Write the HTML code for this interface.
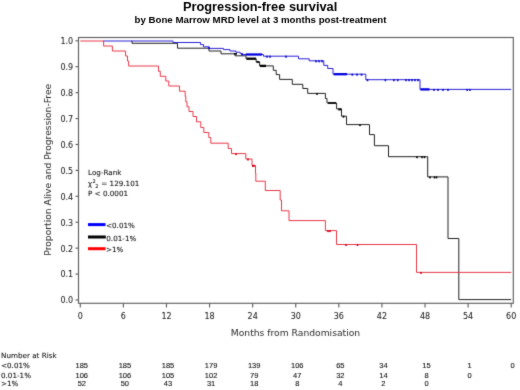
<!DOCTYPE html>
<html lang="en">
<head>
<meta charset="utf-8">
<title>Progression-free survival</title>
<style>
html,body{margin:0;padding:0;background:#fff;}
body{width:520px;height:390px;overflow:hidden;}
svg{display:block;}
text{font-family:"DejaVu Sans","Liberation Sans",sans-serif;fill:#111;}
.title{font-family:"Liberation Sans",sans-serif;font-weight:bold;font-size:12.8px;fill:#000;}
.sub{font-family:"Liberation Sans",sans-serif;font-weight:bold;font-size:9.7px;fill:#000;}
.tk{font-size:8px;fill:#1a1a1a;stroke:#1a1a1a;stroke-width:0.06px;}
.ax{font-size:9.2px;fill:#2a2a2a;}
.sm{font-size:7.2px;fill:#0a0a0a;stroke:#0a0a0a;stroke-width:0.07px;}
.sup{font-size:5px;}
.num{font-family:"Liberation Sans",sans-serif;font-size:7.5px;fill:#0a0a0a;stroke:#0a0a0a;stroke-width:0.08px;}
</style>
</head>
<body>
<svg width="520" height="390" viewBox="0 0 520 390">
<defs>
<filter id="softL" x="0" y="0" width="520" height="390" filterUnits="userSpaceOnUse" color-interpolation-filters="sRGB"><feConvolveMatrix order="3" kernelMatrix="0.0225 0.1500 0.0225 0.1500 1.0000 0.1500 0.0225 0.1500 0.0225" edgeMode="none" preserveAlpha="false"/></filter>
<filter id="softT" x="0" y="0" width="520" height="390" filterUnits="userSpaceOnUse" color-interpolation-filters="sRGB"><feConvolveMatrix order="3" kernelMatrix="0.0225 0.1500 0.0225 0.1500 1.0000 0.1500 0.0225 0.1500 0.0225" edgeMode="none" preserveAlpha="false"/></filter>
<filter id="softH" x="0" y="0" width="520" height="390" filterUnits="userSpaceOnUse" color-interpolation-filters="sRGB"><feConvolveMatrix order="3" kernelMatrix="0.0100 0.1000 0.0100 0.1000 1.0000 0.1000 0.0100 0.1000 0.0100" edgeMode="none" preserveAlpha="false"/></filter>
</defs>
<rect x="0" y="0" width="520" height="390" fill="#fff"/>
<g filter="url(#softH)">
<text x="260.1" y="10.8" text-anchor="middle" class="title">Progression-free survival</text>
<text x="260.5" y="22.9" text-anchor="middle" class="sub">by Bone Marrow MRD level at 3 months post-treatment</text>
</g>
<g filter="url(#softL)">
<g fill="none" stroke="#606060" stroke-width="1.15">
<rect x="78.5" y="37.5" width="434.8" height="265.8"/>
<line x1="80.30" y1="303.3" x2="80.30" y2="307.5"/><line x1="123.39" y1="303.3" x2="123.39" y2="307.5"/><line x1="166.48" y1="303.3" x2="166.48" y2="307.5"/><line x1="209.57" y1="303.3" x2="209.57" y2="307.5"/><line x1="252.66" y1="303.3" x2="252.66" y2="307.5"/><line x1="295.75" y1="303.3" x2="295.75" y2="307.5"/><line x1="338.84" y1="303.3" x2="338.84" y2="307.5"/><line x1="381.93" y1="303.3" x2="381.93" y2="307.5"/><line x1="425.02" y1="303.3" x2="425.02" y2="307.5"/><line x1="468.11" y1="303.3" x2="468.11" y2="307.5"/><line x1="511.20" y1="303.3" x2="511.20" y2="307.5"/><line x1="75.5" y1="300.00" x2="78.5" y2="300.00"/><line x1="75.5" y1="274.08" x2="78.5" y2="274.08"/><line x1="75.5" y1="248.16" x2="78.5" y2="248.16"/><line x1="75.5" y1="222.24" x2="78.5" y2="222.24"/><line x1="75.5" y1="196.32" x2="78.5" y2="196.32"/><line x1="75.5" y1="170.40" x2="78.5" y2="170.40"/><line x1="75.5" y1="144.48" x2="78.5" y2="144.48"/><line x1="75.5" y1="118.56" x2="78.5" y2="118.56"/><line x1="75.5" y1="92.64" x2="78.5" y2="92.64"/><line x1="75.5" y1="66.72" x2="78.5" y2="66.72"/><line x1="75.5" y1="40.80" x2="78.5" y2="40.80"/>
</g>
<g fill="none" stroke-width="1" stroke-linejoin="miter">
<path d="M131.5,41H132V43.3H177.5V48.2H209V51H221V53.8H235V55.8H246V58.7H256.2V62H259.6V65.9H273.3V70.3H276.2V74.6H279.6V79.4H292.3V84.3H302.8V88.5H307.7V93.4H325.4V98.5H327V103H336.6V108.9H341.5V116.2H346.5V124.6H369.5V134.6H374.4V145.7H388.5V156.7H427.7V176.9H448V238.5H458.8V299.6H511.2" stroke="#222222"/>
<path d="M103.1,41H173V42.5H200.5V44.6H203.5V46.8H209V48.4H223.5V49.6H230V51H236V52.2H240V53.4H242.5V54.5H263.5V56.2H298.5V58.8H309.2V60.8H323.8V65.4H327.7V68.5H333V74.2H365.8V79.7H420V89.4H511.2" stroke="#2a22d4"/>
<path d="M80.3,41H103.6V46H112.4V51H125.6V56H127.5V61H128.6V66H158.5V71.3H160.3V76.3H165.8V81H168.8V86H179.5V91.2H185.2V96.5H185.8V101.8H187V106.8H189V111.5H193V116.5H196.5V121.8H200.8V127.5H203.8V132.5H208.8V137.5H210.8V143.2H228.2V148.5H231.5V153.6H245.8V159H252V165.4H255.5V173H255.8V181.2H265.3V190.5H280.2V200H281.5V210.8H289V220.6H325.4V230.6H336.5V244.5H416.5V272.4H511.2" stroke="#e63848"/>
</g>
<line x1="246.5" y1="58.7" x2="256" y2="58.7" stroke="#000" stroke-width="2.3"/><line x1="260" y1="65.9" x2="266" y2="65.9" stroke="#000" stroke-width="2.3"/><line x1="328" y1="103" x2="336" y2="103" stroke="#000" stroke-width="1.7"/><line x1="234" y1="53.8" x2="237" y2="53.8" stroke="#000" stroke-width="1.7"/><line x1="256.5" y1="62" x2="259.5" y2="62" stroke="#000" stroke-width="1.7"/><rect x="316.2" y="92.9" width="1.6" height="2" fill="#000"/><rect x="338.2" y="108.4" width="1.6" height="2" fill="#000"/><rect x="339.7" y="108.4" width="1.6" height="2" fill="#000"/><rect x="342.7" y="115.7" width="1.6" height="2" fill="#000"/><rect x="359.2" y="124.1" width="1.6" height="2" fill="#000"/><rect x="416.2" y="156.2" width="1.6" height="2" fill="#000"/><rect x="421.2" y="156.2" width="1.6" height="2" fill="#000"/><rect x="423.7" y="156.2" width="1.6" height="2" fill="#000"/><rect x="429.2" y="176.4" width="1.6" height="2" fill="#000"/><rect x="433.7" y="176.4" width="1.6" height="2" fill="#000"/><rect x="435.7" y="176.4" width="1.6" height="2" fill="#000"/>
<line x1="245.8" y1="54.5" x2="262" y2="54.5" stroke="#0000e0" stroke-width="2.3"/><line x1="333.8" y1="74.2" x2="347" y2="74.2" stroke="#0000e0" stroke-width="2.3"/><line x1="420.5" y1="89.4" x2="429.5" y2="89.4" stroke="#0000e0" stroke-width="2.3"/><rect x="208.2" y="46.9" width="1.6" height="2" fill="#0000d0"/><rect x="241.2" y="53.5" width="1.6" height="2" fill="#0000d0"/><rect x="266.2" y="55.7" width="1.6" height="2" fill="#0000d0"/><rect x="269.2" y="55.7" width="1.6" height="2" fill="#0000d0"/><rect x="285.2" y="55.7" width="1.6" height="2" fill="#0000d0"/><rect x="315.2" y="60.3" width="1.6" height="2" fill="#0000d0"/><rect x="318.2" y="60.3" width="1.6" height="2" fill="#0000d0"/><rect x="321.2" y="60.3" width="1.6" height="2" fill="#0000d0"/><rect x="351.5" y="73.7" width="1.6" height="2" fill="#0000d0"/><rect x="356.2" y="73.7" width="1.6" height="2" fill="#0000d0"/><rect x="360.7" y="73.7" width="1.6" height="2" fill="#0000d0"/><rect x="366.7" y="79.2" width="1.6" height="2" fill="#0000d0"/><rect x="384.6" y="79.2" width="1.6" height="2" fill="#0000d0"/><rect x="393.0" y="79.2" width="1.6" height="2" fill="#0000d0"/><rect x="396.9" y="79.2" width="1.6" height="2" fill="#0000d0"/><rect x="405.2" y="79.2" width="1.6" height="2" fill="#0000d0"/><rect x="408.2" y="79.2" width="1.6" height="2" fill="#0000d0"/><rect x="411.2" y="79.2" width="1.6" height="2" fill="#0000d0"/><rect x="414.2" y="79.2" width="1.6" height="2" fill="#0000d0"/><rect x="417.2" y="79.2" width="1.6" height="2" fill="#0000d0"/><rect x="433.2" y="88.9" width="1.6" height="2" fill="#0000d0"/><rect x="437.2" y="88.9" width="1.6" height="2" fill="#0000d0"/><rect x="442.2" y="88.9" width="1.6" height="2" fill="#0000d0"/><rect x="447.2" y="88.9" width="1.6" height="2" fill="#0000d0"/><rect x="466.4" y="88.9" width="1.6" height="2" fill="#0000d0"/><rect x="469.1" y="88.9" width="1.6" height="2" fill="#0000d0"/>
<rect x="235.2" y="153.1" width="1.6" height="2" fill="#d00018"/><rect x="247.2" y="158.5" width="1.6" height="2" fill="#d00018"/><rect x="252.0" y="164.9" width="1.6" height="2" fill="#d00018"/><rect x="253.2" y="164.9" width="1.6" height="2" fill="#d00018"/><rect x="327.2" y="230.1" width="1.6" height="2" fill="#d00018"/><rect x="329.2" y="230.1" width="1.6" height="2" fill="#d00018"/><rect x="345.2" y="244.0" width="1.6" height="2" fill="#d00018"/><rect x="356.7" y="244.0" width="1.6" height="2" fill="#d00018"/><rect x="420.2" y="271.9" width="1.6" height="2" fill="#d00018"/>
<line x1="88" y1="224.6" x2="105.5" y2="224.6" stroke="#0000ff" stroke-width="3"/>
<line x1="88" y1="237" x2="105.8" y2="237" stroke="#000" stroke-width="3"/>
<line x1="88" y1="248.7" x2="105.5" y2="248.7" stroke="#ff0000" stroke-width="3"/>
</g>
<g filter="url(#softT)">
<text x="80.30" y="318.7" text-anchor="middle" class="tk">0</text><text x="123.39" y="318.7" text-anchor="middle" class="tk">6</text><text x="166.48" y="318.7" text-anchor="middle" class="tk">12</text><text x="209.57" y="318.7" text-anchor="middle" class="tk">18</text><text x="252.66" y="318.7" text-anchor="middle" class="tk">24</text><text x="295.75" y="318.7" text-anchor="middle" class="tk">30</text><text x="338.84" y="318.7" text-anchor="middle" class="tk">36</text><text x="381.93" y="318.7" text-anchor="middle" class="tk">42</text><text x="425.02" y="318.7" text-anchor="middle" class="tk">48</text><text x="468.11" y="318.7" text-anchor="middle" class="tk">54</text><text x="511.20" y="318.7" text-anchor="middle" class="tk">60</text><text x="73.2" y="303.40" text-anchor="end" class="tk">0.0</text><text x="73.2" y="277.48" text-anchor="end" class="tk">0.1</text><text x="73.2" y="251.56" text-anchor="end" class="tk">0.2</text><text x="73.2" y="225.64" text-anchor="end" class="tk">0.3</text><text x="73.2" y="199.72" text-anchor="end" class="tk">0.4</text><text x="73.2" y="173.80" text-anchor="end" class="tk">0.5</text><text x="73.2" y="147.88" text-anchor="end" class="tk">0.6</text><text x="73.2" y="121.96" text-anchor="end" class="tk">0.7</text><text x="73.2" y="96.04" text-anchor="end" class="tk">0.8</text><text x="73.2" y="70.12" text-anchor="end" class="tk">0.9</text><text x="73.2" y="44.20" text-anchor="end" class="tk">1.0</text>
<text transform="translate(51.1,169.75) rotate(-90)" text-anchor="middle" class="ax">Proportion Alive and Progression-Free</text>
<text x="295.5" y="336.3" text-anchor="middle" class="ax">Months from Randomisation</text>
<text x="88" y="174.9" class="sm">Log-Rank</text>
<text x="88" y="185.9" class="sm">χ</text><text x="92.6" y="182.9" class="sm sup">2</text><text x="95.3" y="188.2" class="sm sup">2</text><text x="101.3" y="185.8" class="sm">= 129.101</text>
<text x="88" y="195.8" class="sm">P &lt; 0.0001</text>
<text x="106" y="228.2" class="sm">&lt;0.01%</text>
<text x="106.3" y="240.5" class="sm">0.01-1%</text>
<text x="106" y="252.3" class="sm">&gt;1%</text>
<text x="1" y="358" class="sm">Number at Risk</text>
<text x="1" y="368.2" class="sm">&lt;0.01%</text><text x="81.80" y="368.2" text-anchor="middle" class="num">185</text><text x="124.89" y="368.2" text-anchor="middle" class="num">185</text><text x="167.98" y="368.2" text-anchor="middle" class="num">185</text><text x="211.07" y="368.2" text-anchor="middle" class="num">179</text><text x="254.16" y="368.2" text-anchor="middle" class="num">139</text><text x="297.25" y="368.2" text-anchor="middle" class="num">106</text><text x="340.34" y="368.2" text-anchor="middle" class="num">65</text><text x="383.43" y="368.2" text-anchor="middle" class="num">34</text><text x="426.52" y="368.2" text-anchor="middle" class="num">15</text><text x="469.61" y="368.2" text-anchor="middle" class="num">1</text><text x="512.70" y="368.2" text-anchor="middle" class="num">0</text>
<text x="1" y="377.5" class="sm">0.01-1%</text><text x="81.80" y="377.5" text-anchor="middle" class="num">106</text><text x="124.89" y="377.5" text-anchor="middle" class="num">106</text><text x="167.98" y="377.5" text-anchor="middle" class="num">105</text><text x="211.07" y="377.5" text-anchor="middle" class="num">102</text><text x="254.16" y="377.5" text-anchor="middle" class="num">79</text><text x="297.25" y="377.5" text-anchor="middle" class="num">47</text><text x="340.34" y="377.5" text-anchor="middle" class="num">32</text><text x="383.43" y="377.5" text-anchor="middle" class="num">14</text><text x="426.52" y="377.5" text-anchor="middle" class="num">8</text><text x="469.61" y="377.5" text-anchor="middle" class="num">0</text>
<text x="1" y="386.1" class="sm">&gt;1%</text><text x="81.80" y="386.1" text-anchor="middle" class="num">52</text><text x="124.89" y="386.1" text-anchor="middle" class="num">50</text><text x="167.98" y="386.1" text-anchor="middle" class="num">43</text><text x="211.07" y="386.1" text-anchor="middle" class="num">31</text><text x="254.16" y="386.1" text-anchor="middle" class="num">18</text><text x="297.25" y="386.1" text-anchor="middle" class="num">8</text><text x="340.34" y="386.1" text-anchor="middle" class="num">4</text><text x="383.43" y="386.1" text-anchor="middle" class="num">2</text><text x="426.52" y="386.1" text-anchor="middle" class="num">0</text>
</g>
</svg>
</body>
</html>
